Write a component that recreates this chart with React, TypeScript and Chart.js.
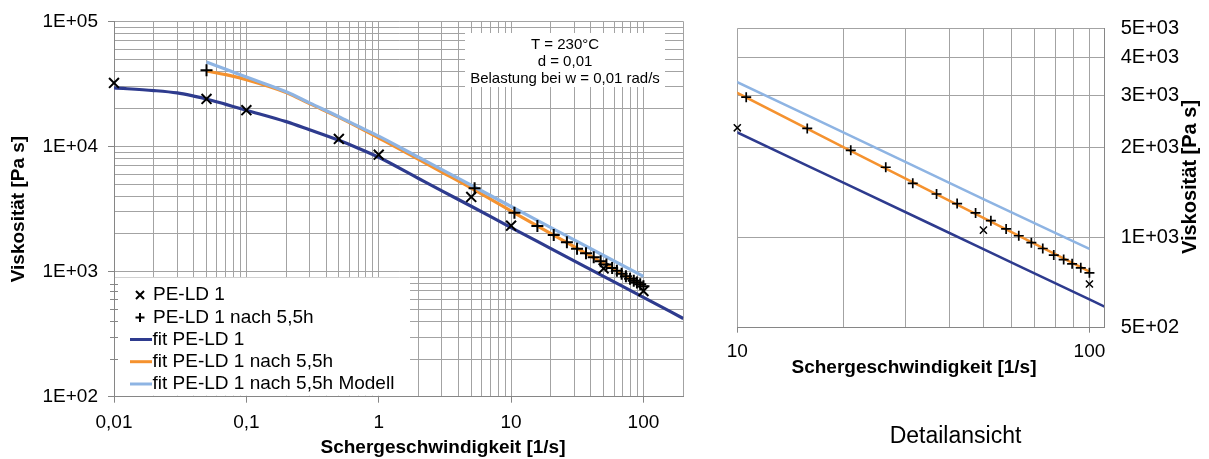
import React, { useEffect, useRef } from 'react';
import { Chart, registerables } from 'chart.js';

Chart.register(...registerables);

const FONT = "'Liberation Sans', Arial, Helvetica, sans-serif";

// ---- measured data ----
const peld1X = [0.01, 0.05, 0.1, 0.5, 1, 5, 10, 50, 100];
const peld1Y = [32200, 24000, 19500, 11500, 8600, 3950, 2330, 1060, 700];

const peld55X = [0.05, 5.3, 10.6, 15.8, 21, 26.4, 31.5, 36.8, 42.1, 47.5, 52.5, 58, 63, 68.4, 73.7, 79.2, 84.5, 89.3, 94.5, 100];
const peld55Y = [40600, 4630, 2950, 2320, 1960, 1720, 1520, 1400, 1300, 1210, 1140, 1070, 1015, 962, 920, 875, 845, 818, 793, 763];

// ---- fit curves ----
const blueFitX = [0.01, 0.02, 0.03, 0.04, 0.05, 0.07, 0.1, 0.2, 0.3, 0.5, 0.7, 1, 2, 3, 5, 10, 20, 50, 100, 200];
const blueFitY = [29400, 28000, 26800, 25300, 24000, 21700, 19500, 15800, 13600, 11200, 9700, 8200, 5550, 4420, 3330, 2250, 1528, 916, 622, 422];

const orangeFitX = [0.05, 0.07, 0.1, 0.2, 0.3, 0.5, 0.7, 1, 2, 3, 5, 10, 20, 50, 100];
const orangeFitY = [40100, 37500, 34200, 27000, 22000, 17100, 14300, 11700, 7900, 6250, 4650, 3050, 2010, 1165, 770];

const modelFitX = [0.05, 0.07, 0.1, 0.2, 0.3, 0.5, 0.7, 1, 2, 3, 5, 10, 20, 50, 100];
const modelFitY = [47300, 41500, 35900, 27400, 22300, 17300, 14500, 12100, 8200, 6540, 4900, 3313, 2250, 1345, 917];

// ---- ticks / labels ----
const mainXTickValues = [0.01, 0.1, 1, 10, 100];
const mainXTickLabels = ['0,01', '0,1', '1', '10', '100'];
const mainYTickValues = [100, 1000, 10000, 100000];
const mainYTickLabels = ['1E+02', '1E+03', '1E+04', '1E+05'];
const detailXTickValues = [10, 100];
const detailXTickLabels = ['10', '100'];
const detailYTickValues = [500, 1000, 2000, 3000, 4000, 5000];
const detailYTickLabels = ['5E+02', '1E+03', '2E+03', '3E+03', '4E+03', '5E+03'];

const seriesNames = ['PE-LD 1', 'PE-LD 1 nach 5,5h', 'fit PE-LD 1', 'fit PE-LD 1 nach 5,5h', 'fit PE-LD 1 nach 5,5h Modell'];
const annotationLines = ['T = 230°C', 'd = 0,01', 'Belastung bei w = 0,01 rad/s'];
const yTitle = 'Viskosität [Pa s]';
const xTitle = 'Schergeschwindigkeit [1/s]';
const detailCaption = 'Detailansicht';

const COLORS = {
  blue: '#2E3B8E',
  orange: '#F5922F',
  model: '#8EB4E3',
  grid: '#a3a3a3',
  axis: '#868686',
};

function logGrid(min: number, max: number): number[] {
  const out: number[] = [];
  const d0 = Math.floor(Math.log10(min));
  const d1 = Math.ceil(Math.log10(max));
  for (let d = d0; d <= d1; d++) {
    for (let k = 1; k <= 9; k++) {
      const v = parseFloat((k * Math.pow(10, d)).toPrecision(6));
      if (v >= min * 0.9999 && v <= max * 1.0001) out.push(v);
    }
  }
  return out;
}
const same = (a: number, b: number) => Math.abs(Math.log10(a) - Math.log10(b)) < 1e-6;
const labelOf = (v: number, vals: number[], labels: string[]) => {
  const i = vals.findIndex((t) => same(t, v));
  return i >= 0 ? labels[i] : '';
};
const pts = (xs: number[], ys: number[]) => xs.map((x, i) => ({ x, y: ys[i] }));

function makeDatasets(detail: boolean) {
  const lw = detail ? 2.5 : 3.2;
  const line = { showLine: true, pointRadius: 0, borderWidth: lw, cubicInterpolationMode: 'monotone', clip: 0 };
  return [
    {
      label: seriesNames[0], data: pts(peld1X, peld1Y), showLine: false,
      pointStyle: 'crossRot', pointRadius: detail ? 5 : 7, pointBorderWidth: detail ? 1.5 : 2,
      borderColor: '#000', backgroundColor: '#000', order: 0, clip: 10,
    },
    {
      label: seriesNames[1], data: pts(peld55X, peld55Y), showLine: false,
      pointStyle: 'cross', pointRadius: detail ? 5 : 6, pointBorderWidth: detail ? 1.7 : 2,
      borderColor: '#000', backgroundColor: '#000', order: 1, clip: 10,
    },
    { ...line, label: seriesNames[2], data: pts(blueFitX, blueFitY), borderColor: COLORS.blue, backgroundColor: COLORS.blue, order: 4 },
    { ...line, label: seriesNames[3], data: pts(orangeFitX, orangeFitY), borderColor: COLORS.orange, backgroundColor: COLORS.orange, order: 3 },
    { ...line, label: seriesNames[4], data: pts(modelFitX, modelFitY), borderColor: COLORS.model, backgroundColor: COLORS.model, order: 2 },
  ];
}

const mainDecor = {
  id: 'mainDecor',
  afterDraw(chart: any) {
    const ctx = chart.ctx as CanvasRenderingContext2D;
    const area = chart.chartArea;
    const yS = chart.scales.y;
    ctx.save();
    // annotation box
    ctx.fillStyle = '#fff';
    ctx.fillRect(465, 33, 200, 54);
    ctx.fillStyle = '#000';
    ctx.font = `15px ${FONT}`;
    ctx.textAlign = 'center';
    ctx.textBaseline = 'middle';
    annotationLines.forEach((t, i) => ctx.fillText(t, 565, 44.5 + i * 17.3));

    // legend box
    const legTop = 277.5;
    ctx.fillStyle = '#fff';
    ctx.fillRect(area.left + 1, legTop, 410 - area.left - 1, area.bottom - legTop - 1);
    // minor ticks on y axis inside legend area
    ctx.strokeStyle = COLORS.axis;
    ctx.lineWidth = 1;
    for (const v of logGrid(100, 1000)) {
      const y = Math.round(yS.getPixelForValue(v)) + 0.5;
      if (y > legTop && y < area.bottom - 2) {
        ctx.beginPath();
        ctx.moveTo(area.left - 4, y);
        ctx.lineTo(area.left + 4, y);
        ctx.stroke();
      }
    }
    // legend items
    const rowY = [295, 317.5, 339.5, 361.7, 384];
    ctx.font = `19px ${FONT}`;
    ctx.textAlign = 'left';
    ctx.textBaseline = 'middle';
    ctx.fillStyle = '#000';
    rowY.forEach((y, i) => {
      ctx.strokeStyle = '#000';
      if (i === 0) {
        ctx.lineWidth = 2;
        ctx.beginPath();
        ctx.moveTo(136, y - 4); ctx.lineTo(144, y + 4);
        ctx.moveTo(144, y - 4); ctx.lineTo(136, y + 4);
        ctx.stroke();
      } else if (i === 1) {
        ctx.lineWidth = 2;
        ctx.beginPath();
        ctx.moveTo(135.5, y); ctx.lineTo(144.5, y);
        ctx.moveTo(140, y - 4.5); ctx.lineTo(140, y + 4.5);
        ctx.stroke();
      } else {
        ctx.strokeStyle = [COLORS.blue, COLORS.orange, COLORS.model][i - 2];
        ctx.lineWidth = 3;
        ctx.beginPath();
        ctx.moveTo(130, y); ctx.lineTo(152, y);
        ctx.stroke();
      }
      ctx.fillText(seriesNames[i], i < 2 ? 153 : 152.5, y);
    });

    // axis titles
    ctx.font = `bold 19px ${FONT}`;
    ctx.textAlign = 'center';
    ctx.fillText(xTitle, 443, 448);
    ctx.translate(19, (area.top + area.bottom) / 2);
    ctx.rotate(-Math.PI / 2);
    ctx.fillText(yTitle, 0, 0);
    ctx.restore();
  },
};

const detailDecor = {
  id: 'detailDecor',
  afterDraw(chart: any) {
    const ctx = chart.ctx as CanvasRenderingContext2D;
    ctx.save();
    ctx.fillStyle = '#000';
    ctx.textAlign = 'center';
    ctx.textBaseline = 'middle';
    ctx.font = `bold 19px ${FONT}`;
    ctx.fillText(xTitle, 214, 368);
    ctx.font = `23px ${FONT}`;
    ctx.fillText(detailCaption, 255.5, 437);
    ctx.font = `bold 20px ${FONT}`;
    ctx.translate(490, 177);
    ctx.rotate(-Math.PI / 2);
    ctx.fillText(yTitle, 0, 0);
    ctx.restore();
  },
};

function majorTickColor(vals: number[]) {
  return (c: any) => (c.tick && vals.some((t) => same(t, c.tick.value)) ? COLORS.axis : 'rgba(0,0,0,0)');
}

function mainConfig(): any {
  const xGrid = logGrid(0.01, 200);
  const yGrid = logGrid(100, 100000);
  return {
    type: 'scatter',
    data: { datasets: makeDatasets(false) },
    plugins: [mainDecor],
    options: {
      responsive: false,
      animation: false,
      events: [],
      devicePixelRatio: 1,
      layout: { padding: { left: 0, top: 19, right: 16.7, bottom: 0 } },
      plugins: { legend: { display: false }, tooltip: { enabled: false } },
      scales: {
        x: {
          type: 'logarithmic', position: 'bottom', min: 0.01, max: 200,
          afterBuildTicks: (s: any) => { s.ticks = xGrid.map((v) => ({ value: v })); },
          afterFit: (s: any) => { s.height = 62.3; },
          ticks: {
            autoSkip: false, maxRotation: 0, minRotation: 0, padding: 8.6, color: '#000',
            font: { size: 19, family: FONT },
            callback: (v: number) => labelOf(v, mainXTickValues, mainXTickLabels),
          },
          grid: { color: COLORS.grid, lineWidth: 1, tickLength: 6, tickColor: majorTickColor(mainXTickValues) },
          border: { color: COLORS.axis },
        },
        y: {
          type: 'logarithmic', position: 'left', min: 100, max: 100000,
          afterBuildTicks: (s: any) => { s.ticks = yGrid.map((v) => ({ value: v })); },
          afterFit: (s: any) => { s.width = 114; },
          ticks: {
            autoSkip: false, padding: 10, color: '#000',
            font: { size: 19, family: FONT },
            callback: (v: number) => labelOf(v, mainYTickValues, mainYTickLabels),
          },
          grid: { color: COLORS.grid, lineWidth: 1, tickLength: 6, tickColor: majorTickColor(mainYTickValues) },
          border: { color: COLORS.axis },
        },
      },
    },
  };
}

function detailConfig(): any {
  const xGrid = logGrid(10, 110);
  return {
    type: 'scatter',
    data: { datasets: makeDatasets(true) },
    plugins: [detailDecor],
    options: {
      responsive: false,
      animation: false,
      events: [],
      devicePixelRatio: 1,
      layout: { padding: { left: 37.3, top: 20, right: 0, bottom: 0 } },
      plugins: { legend: { display: false }, tooltip: { enabled: false } },
      scales: {
        x: {
          type: 'logarithmic', position: 'bottom', min: 10, max: 110,
          afterBuildTicks: (s: any) => { s.ticks = xGrid.map((v) => ({ value: v })); },
          afterFit: (s: any) => { s.height = 131.3; },
          ticks: {
            autoSkip: false, maxRotation: 0, minRotation: 0, padding: 7.9, color: '#000',
            font: { size: 19, family: FONT },
            callback: (v: number) => labelOf(v, detailXTickValues, detailXTickLabels),
          },
          grid: { color: COLORS.grid, lineWidth: 1, tickLength: 5, tickColor: majorTickColor(detailXTickValues) },
          border: { color: COLORS.axis },
        },
        y: {
          type: 'logarithmic', position: 'right', min: 500, max: 5000,
          afterBuildTicks: (s: any) => { s.ticks = detailYTickValues.map((v) => ({ value: v })); },
          afterFit: (s: any) => { s.width = 105; },
          ticks: {
            autoSkip: false, padding: 16.7, color: '#000',
            font: { size: 20, family: FONT },
            callback: (v: number) => labelOf(v, detailYTickValues, detailYTickLabels),
          },
          grid: { color: COLORS.grid, lineWidth: 1, drawTicks: false },
          border: { color: COLORS.axis },
        },
      },
    },
  };
}

export default function App() {
  const aRef = useRef<HTMLCanvasElement>(null);
  const bRef = useRef<HTMLCanvasElement>(null);
  useEffect(() => {
    const a = new Chart(aRef.current as HTMLCanvasElement, mainConfig());
    const b = new Chart(bRef.current as HTMLCanvasElement, detailConfig());
    return () => {
      a.destroy();
      b.destroy();
    };
  }, []);
  return (
    <div style={{ position: 'absolute', left: 0, top: 0, width: 1209, height: 459, background: '#fff' }}>
      <canvas ref={aRef} width={700} height={459} style={{ position: 'absolute', left: 0, top: 0, width: 700, height: 459 }} />
      <canvas ref={bRef} width={509} height={459} style={{ position: 'absolute', left: 700, top: 0, width: 509, height: 459 }} />
    </div>
  );
}
